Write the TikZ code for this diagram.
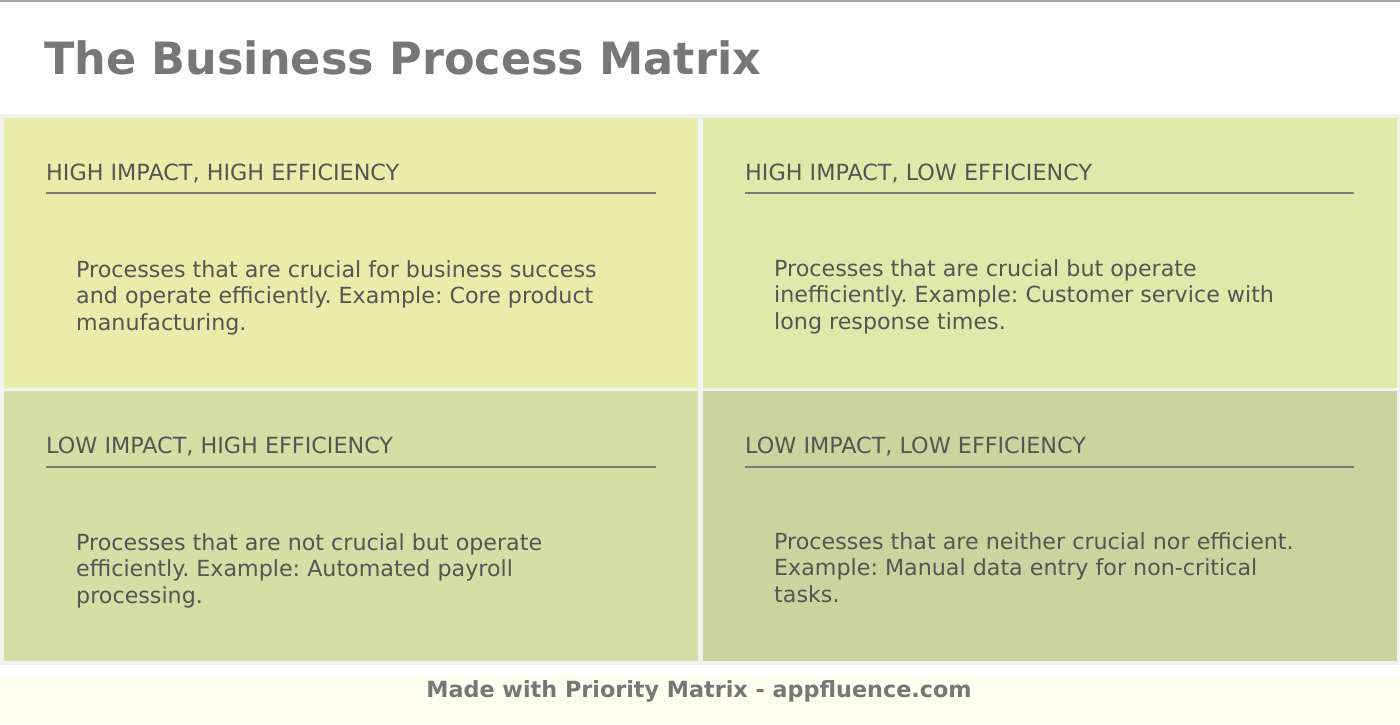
\documentclass[tikz,border=0pt]{standalone}
\usepackage{fontspec}
\setmainfont{DejaVu Sans}
\usetikzlibrary{positioning}
\frenchspacing
\definecolor{titlegray}{HTML}{777777}
\definecolor{textgray}{HTML}{555555}
\definecolor{rulegray}{HTML}{7A7A7A}
\definecolor{bggray}{HTML}{F1F3F1}
\definecolor{footyellow}{HTML}{FEFFF0}
\definecolor{quadA}{HTML}{E8EEAA}
\definecolor{quadB}{HTML}{DFE9A9}
\definecolor{quadC}{HTML}{D5DEA4}
\definecolor{quadD}{HTML}{CBD49E}
\tikzset{
  quad/.style={minimum width=694pt, minimum height=270pt, inner sep=0pt, outer sep=0pt, anchor=north west},
  quadhead/.style={anchor=base west, inner sep=0pt, text=textgray, font=\fontsize{22.3}{26}\selectfont},
  quadbody/.style={anchor=north west, inner sep=0pt, align=left, text=textgray, font=\fontsize{22.2}{26.5}\selectfont},
  quadrule/.style={draw=rulegray, line width=1.5pt}
}
\begin{document}
\begin{tikzpicture}[x=1pt, y=-1pt]
	%%%%%%%%%%%%%%%%%%%%%%%%%%%%%%%%%
	\useasboundingbox[fill=white] (0,0) rectangle (1400,724);
	\coordinate (HH) at (4,118);
	\coordinate (HL) at (703,118);
	\coordinate (LH) at (4,391);
	\coordinate (LL) at (703,391);
	%%%%%%%%%%%%%%%%%%%%%%%%%%%%%%%%%
	\draw[gray!70, line width=2pt] (0,1) -- (1400,1);
	\fill[bggray] (0,114) rectangle (1400,665);
	\fill[footyellow] (0,675) rectangle (1400,724);
	\node[anchor=base west, inner sep=0pt, text=titlegray, font=\fontsize{44.5}{50}\selectfont\bfseries] (title) at (44,74) {The Business Process Matrix};
	%%%%%%%%%%%%%%%%%%%%%%%%%%%%%%%%%
	\node[quad, fill=quadA] (hh) at (HH) {};
	\node[quadhead] (hhhead) at ([xshift=42pt, yshift=-62pt]hh.north west) {HIGH IMPACT, HIGH EFFICIENCY};
	\draw[quadrule] ([xshift=42pt, yshift=-75pt]hh.north west) -- ([xshift=652pt, yshift=-75pt]hh.north west);
	\node[quadbody] (hhbody) at ([xshift=72pt, yshift=-142pt]hh.north west) {Processes that are crucial for business success\\and operate efficiently. Example: Core product\\manufacturing.};
	%%%%%%%%%%%%%%%%%%%%%%%%%%%%%%%%%
	\node[quad, fill=quadB] (hl) at (HL) {};
	\node[quadhead] (hlhead) at ([xshift=42pt, yshift=-62pt]hl.north west) {HIGH IMPACT, LOW EFFICIENCY};
	\draw[quadrule] ([xshift=42pt, yshift=-75pt]hl.north west) -- ([xshift=651pt, yshift=-75pt]hl.north west);
	\node[quadbody] (hlbody) at ([xshift=71pt, yshift=-141pt]hl.north west) {Processes that are crucial but operate\\inefficiently. Example: Customer service with\\long response times.};
	%%%%%%%%%%%%%%%%%%%%%%%%%%%%%%%%%
	\node[quad, fill=quadC] (lh) at (LH) {};
	\node[quadhead] (lhhead) at ([xshift=42pt, yshift=-62pt]lh.north west) {LOW IMPACT, HIGH EFFICIENCY};
	\draw[quadrule] ([xshift=42pt, yshift=-76pt]lh.north west) -- ([xshift=652pt, yshift=-76pt]lh.north west);
	\node[quadbody] (lhbody) at ([xshift=72pt, yshift=-142pt]lh.north west) {Processes that are not crucial but operate\\efficiently. Example: Automated payroll\\processing.};
	%%%%%%%%%%%%%%%%%%%%%%%%%%%%%%%%%
	\node[quad, fill=quadD] (ll) at (LL) {};
	\node[quadhead] (llhead) at ([xshift=42pt, yshift=-62pt]ll.north west) {LOW IMPACT, LOW EFFICIENCY};
	\draw[quadrule] ([xshift=42pt, yshift=-76pt]ll.north west) -- ([xshift=651pt, yshift=-76pt]ll.north west);
	\node[quadbody] (llbody) at ([xshift=71pt, yshift=-141pt]ll.north west) {Processes that are neither crucial nor efficient.\\Example: Manual data entry for non-critical\\tasks.};
	%%%%%%%%%%%%%%%%%%%%%%%%%%%%%%%%%
	\node[inner sep=0pt, text=titlegray, font=\fontsize{22.3}{26}\selectfont\bfseries] (footer) at (699,691) {Made with Priority Matrix - appfluence.com};
\end{tikzpicture}
\end{document}
